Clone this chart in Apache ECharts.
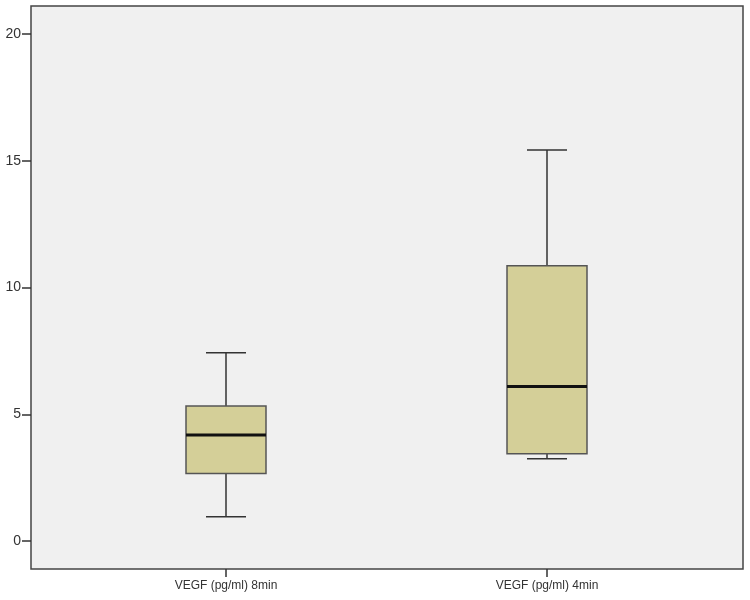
<!DOCTYPE html>
<html lang="en">
<head>
    <meta charset="UTF-8">
    <title>VEGF boxplot</title>
    <style>
        *{ margin:0; padding:0; }
        body{ background:#fff; }
        #box{ width:750px; height:600px; }
    </style>
    <script src="https://cdn.jsdelivr.net/npm/echarts@6/dist/echarts.min.js"></script>
</head>
<body>
    <div id="box"></div>
    <script>
        // data
        var categories = ['VEGF (pg/ml) 8min', 'VEGF (pg/ml) 4min'];
        var lowV = [0.96, 3.25];
        var q1V = [2.67, 3.44];
        var medV = [4.18, 6.10];
        var q3V = [5.33, 10.86];
        var highV = [7.43, 15.42];

        var boxData = [];
        for (var i = 0; i < categories.length; i++) {
            boxData.push([i, lowV[i], q1V[i], medV[i], q3V[i], highV[i]]);
        }

        var lineCol = '#333333';
        var boxW = 80, capW = 40;

        function renderBox(params, api) {
            var idx = api.value(0);
            var pLow = api.coord([idx, api.value(1)]);
            var pQ1 = api.coord([idx, api.value(2)]);
            var pMed = api.coord([idx, api.value(3)]);
            var pQ3 = api.coord([idx, api.value(4)]);
            var pHigh = api.coord([idx, api.value(5)]);
            var cx = pMed[0];
            var ln = { stroke: lineCol, lineWidth: 1.5 };
            return {
                type: 'group',
                children: [
                    { type: 'line', shape: { x1: cx, y1: pHigh[1], x2: cx, y2: pQ3[1] }, style: ln },
                    { type: 'line', shape: { x1: cx, y1: pQ1[1], x2: cx, y2: pLow[1] }, style: ln },
                    { type: 'line', shape: { x1: cx - capW / 2, y1: pHigh[1], x2: cx + capW / 2, y2: pHigh[1] }, style: ln },
                    { type: 'line', shape: { x1: cx - capW / 2, y1: pLow[1], x2: cx + capW / 2, y2: pLow[1] }, style: ln },
                    { type: 'rect', shape: { x: cx - boxW / 2, y: pQ3[1], width: boxW, height: pQ1[1] - pQ3[1] },
                      style: { fill: '#d4cf98', stroke: '#555555', lineWidth: 1.5 } },
                    { type: 'line', shape: { x1: cx - boxW / 2, y1: pMed[1], x2: cx + boxW / 2, y2: pMed[1] },
                      style: { stroke: '#111111', lineWidth: 3 } }
                ]
            };
        }

        var myChart = echarts.init(document.getElementById('box'));
        var option = {
            animation: false,
            textStyle: { fontFamily: 'Liberation Sans, Arial, sans-serif' },
            grid: [
                // frame / background
                { left: 31, right: 7, top: 6, bottom: 31, show: true,
                  backgroundColor: '#f0f0f0', borderColor: '#444444', borderWidth: 1.5 },
                // y ticks 0..20
                { left: 31, right: 7, top: 34, bottom: 59 },
                // boxes
                { left: 65.5, right: 42.5, top: 6, bottom: 31 }
            ],
            xAxis: [
                { gridIndex: 0, type: 'value', show: false, min: 0, max: 1 },
                { gridIndex: 1, type: 'value', show: false, min: 0, max: 1 },
                { gridIndex: 2, type: 'category', data: categories,
                  axisLine: { show: true, onZero: false, lineStyle: { opacity: 0 } },
                  axisTick: { show: true, alignWithLabel: true, length: 8, lineStyle: { color: lineCol, width: 1.5, opacity: 1 } },
                  axisLabel: { color: '#333', fontSize: 12, margin: 11 } }
            ],
            yAxis: [
                { gridIndex: 0, type: 'value', show: false, min: 0, max: 1 },
                { gridIndex: 1, type: 'value', min: 0, max: 20, interval: 5,
                  axisLine: { show: true, onZero: false, lineStyle: { opacity: 0 } },
                  axisTick: { show: true, length: 9, lineStyle: { color: lineCol, width: 1.5, opacity: 1 } },
                  axisLabel: { color: '#333', fontSize: 14, margin: 10 },
                  splitLine: { show: false } },
                { gridIndex: 2, type: 'value', show: false, min: -1.1, max: 21.1, splitLine: { show: false } }
            ],
            series: [
                { type: 'custom', xAxisIndex: 2, yAxisIndex: 2, data: boxData,
                  encode: { x: 0, y: [1, 2, 3, 4, 5] }, renderItem: renderBox }
            ]
        };
        myChart.setOption(option);
    </script>
</body>
</html>
